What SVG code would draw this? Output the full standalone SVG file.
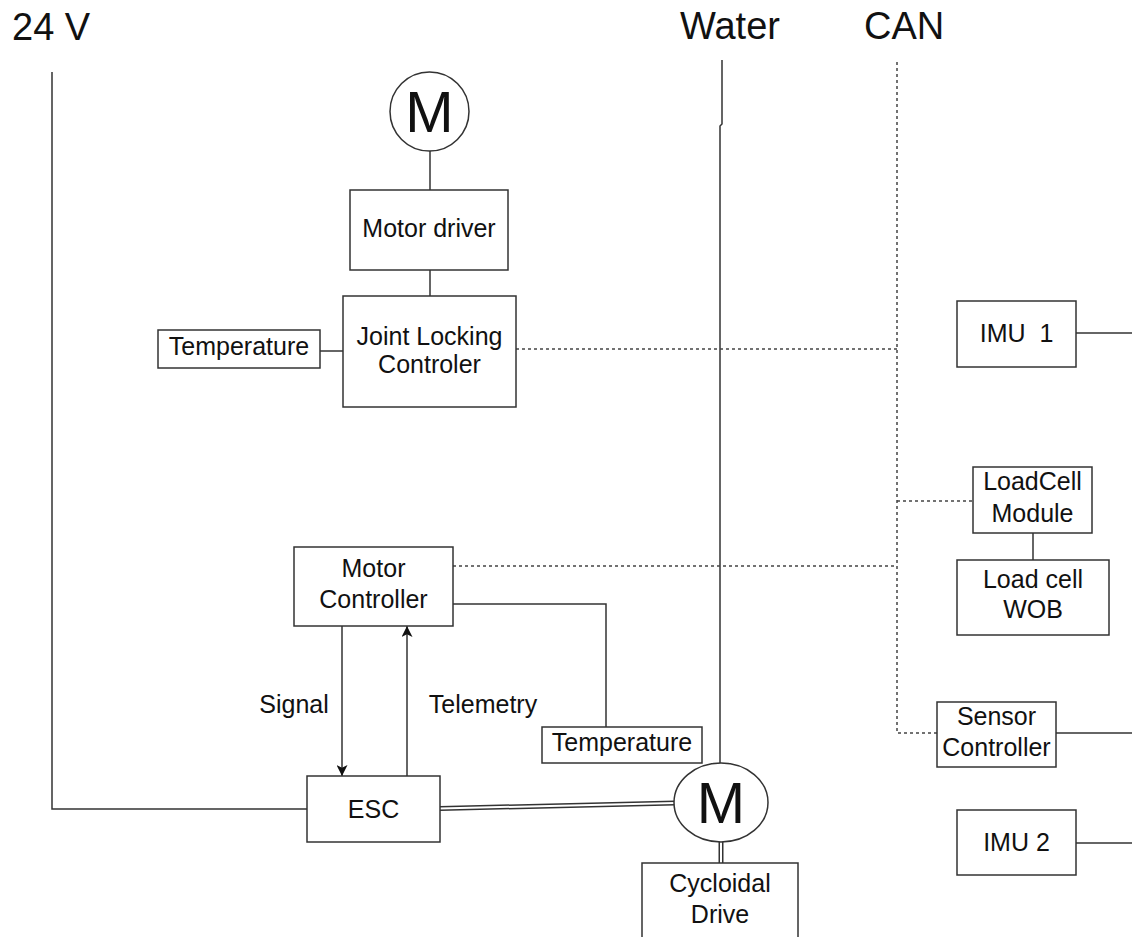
<svg xmlns="http://www.w3.org/2000/svg" width="1132" height="937" viewBox="0 0 1132 937">
<style>
  .box { fill: #fff; stroke: #333; stroke-width: 1.5; }
  .ln { fill: none; stroke: #333; stroke-width: 1.5; }
  .dash { fill: none; stroke: #444; stroke-width: 1.5; stroke-dasharray: 3 3; }
  .dbl-o { fill: none; stroke: #333; stroke-width: 5; }
  .dbl-i { fill: none; stroke: #fff; stroke-width: 2; }
  .t { font-family: "Liberation Sans", Arial, sans-serif; font-size: 25px; fill: #111; text-anchor: middle; }
  .title { font-family: "Liberation Sans", Arial, sans-serif; font-size: 38px; fill: #111; }
  .m { font-family: "Liberation Sans", Arial, sans-serif; font-size: 58px; fill: #111; text-anchor: middle; }
</style>
<defs>
  <marker id="arr" viewBox="0 0 10 10" refX="10" refY="5" markerWidth="12" markerHeight="11" markerUnits="userSpaceOnUse" orient="auto">
    <path d="M0,0 L10,5 L0,10 L2.5,5 Z" fill="#111"/>
  </marker>
</defs>
<rect width="1132" height="937" fill="#fff"/>

<g id="titles">
  <text class="title" x="12" y="40">24 V</text>
  <text class="title" x="680" y="39">Water</text>
  <text class="title" x="864" y="39">CAN</text>
</g>

<g id="connectors">
  <!-- 24 V rail -->
  <path class="ln" d="M52,72 V809 H307"/>
  <!-- Water -->
  <path class="ln" d="M722,60 V124 L720,126 V763"/>
  <!-- CAN bus -->
  <path class="dash" d="M897,62 V733 H937"/>
  <path class="dash" d="M516,349 H897"/>
  <path class="dash" d="M897,501 H973"/>
  <path class="dash" d="M453,566 H897"/>
  <!-- top motor chain -->
  <path class="ln" d="M430,151 V190"/>
  <path class="ln" d="M430,270 V296"/>
  <path class="ln" d="M320,351 H343"/>
  <!-- right side -->
  <path class="ln" d="M1076,333 H1132"/>
  <path class="ln" d="M1033,533 V560"/>
  <path class="ln" d="M1056,733 H1132"/>
  <path class="ln" d="M1076,843 H1132"/>
  <!-- motor controller -->
  <path class="ln" d="M453,604 H606 V727"/>
  <path class="ln" d="M342,626 V776" marker-end="url(#arr)"/>
  <path class="ln" d="M407,776 V626" marker-end="url(#arr)"/>
  <!-- double lines -->
  <path class="dbl-o" d="M440,808.5 L675,803"/>
  <path class="dbl-i" d="M440,808.5 L675,803"/>
  <path class="dbl-o" d="M721,842 V863"/>
  <path class="dbl-i" d="M721,842 V863"/>
</g>

<g id="labels">
  <text class="t" x="294" y="713">Signal</text>
  <text class="t" x="483" y="713">Telemetry</text>
</g>

<g id="motor-top">
  <circle class="box" cx="429.5" cy="111.5" r="39.5"/>
  <text class="m" x="429.5" y="132">M</text>
</g>

<g id="motor-driver">
  <rect class="box" x="350" y="190" width="158" height="80"/>
  <text class="t" x="429" y="237">Motor driver</text>
</g>

<g id="joint-locking">
  <rect class="box" x="343" y="296" width="173" height="111"/>
  <text class="t" x="429.5" y="345">Joint Locking</text>
  <text class="t" x="429.5" y="373">Controler</text>
</g>

<g id="temperature-top">
  <rect class="box" x="158" y="330" width="162" height="38"/>
  <text class="t" x="239" y="355">Temperature</text>
</g>

<g id="imu1">
  <rect class="box" x="957" y="301" width="119" height="66"/>
  <text class="t" x="1016.5" y="342" xml:space="preserve">IMU  1</text>
</g>

<g id="loadcell-module">
  <rect class="box" x="973" y="467" width="119" height="66"/>
  <text class="t" x="1032.5" y="490">LoadCell</text>
  <text class="t" x="1032.5" y="522">Module</text>
</g>

<g id="loadcell-wob">
  <rect class="box" x="957" y="560" width="152" height="75"/>
  <text class="t" x="1033" y="588">Load cell</text>
  <text class="t" x="1033" y="618">WOB</text>
</g>

<g id="motor-controller">
  <rect class="box" x="294" y="547" width="159" height="79"/>
  <text class="t" x="373.5" y="577">Motor</text>
  <text class="t" x="373.5" y="608">Controller</text>
</g>

<g id="temperature-bottom">
  <rect class="box" x="542" y="727" width="160" height="36"/>
  <text class="t" x="622" y="751">Temperature</text>
</g>

<g id="esc">
  <rect class="box" x="307" y="776" width="133" height="66"/>
  <text class="t" x="373.5" y="818">ESC</text>
</g>

<g id="motor-main">
  <ellipse class="box" cx="721" cy="802.5" rx="47" ry="39.5"/>
  <text class="m" x="721" y="823">M</text>
</g>

<g id="cycloidal-drive">
  <rect class="box" x="642" y="863" width="156" height="90"/>
  <text class="t" x="720" y="892">Cycloidal</text>
  <text class="t" x="720" y="923">Drive</text>
</g>

<g id="sensor-controller">
  <rect class="box" x="937" y="702" width="119" height="65"/>
  <text class="t" x="996.5" y="725">Sensor</text>
  <text class="t" x="996.5" y="756">Controller</text>
</g>

<g id="imu2">
  <rect class="box" x="957" y="810" width="119" height="65"/>
  <text class="t" x="1016.5" y="851">IMU 2</text>
</g>
</svg>
